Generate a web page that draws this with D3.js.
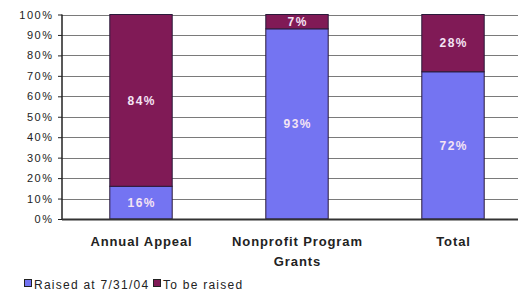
<!DOCTYPE html>
<html>
<head>
<meta charset="utf-8">
<script src="https://cdn.jsdelivr.net/npm/d3@7"></script>
<style>
  body { margin: 0; background: #fff; }
  svg { display: block; font-family: "Liberation Sans", Arial, sans-serif; }
</style>
</head>
<body>
<svg id="chart" width="518" height="294"></svg>
<script>
// chart data
var categories = ["Annual Appeal", "Nonprofit Program|Grants", "Total"];
var raised = [16, 93, 72];
var toBeRaised = [84, 7, 28];
var seriesNames = ["Raised at 7/31/04", "To be raised"];
var yTicks = [0, 10, 20, 30, 40, 50, 60, 70, 80, 90, 100];

var colors = ["#7474f2", "#801a56"];

var svg = d3.select("#chart"),
    plotLeft = 62,
    plotTop = 14.5,
    plotBottom = 219,
    plotRight = 531;

var x = d3.scaleBand()
    .domain(categories)
    .range([plotLeft + 1, plotRight])
    .paddingInner(0.6)
    .paddingOuter(0.3);

var y = d3.scaleLinear()
    .domain([0, 100])
    .range([plotBottom, plotTop]);

// gridlines
svg.append("g")
    .selectAll("line")
    .data(yTicks.filter(function (d) { return d > 0; }))
    .enter().append("line")
    .attr("x1", plotLeft)
    .attr("x2", plotRight)
    .attr("y1", function (d) { return Math.round(y(d)) + 0.5; })
    .attr("y2", function (d) { return Math.round(y(d)) + 0.5; })
    .style("stroke", "#7a7a7a")
    .style("stroke-width", 1);

// stacked data
var rows = categories.map(function (c, i) {
    return {cat: c, a: raised[i], b: toBeRaised[i]};
});
var stack = d3.stack().keys(["a", "b"]);
var layers = stack(rows);

var layer = svg.selectAll("g.layer")
    .data(layers)
    .enter().append("g")
    .attr("class", "layer");

layer.selectAll("rect")
    .data(function (d) { return d.map(function (p) { return {p: p, key: d.key}; }); })
    .enter().append("rect")
    .attr("x", function (d) { return x(d.p.data.cat); })
    .attr("width", x.bandwidth())
    .attr("y", function (d) { return y(d.p[1]); })
    .attr("height", function (d) { return y(d.p[0]) - y(d.p[1]); })
    .style("fill", function (d) { return d.key === "a" ? colors[0] : colors[1]; })
    .style("stroke", "#2a1a3a")
    .style("stroke-width", 1);

// value labels
layer.selectAll("text")
    .data(function (d) { return d.map(function (p) { return {p: p, key: d.key}; }); })
    .enter().append("text")
    .attr("x", function (d) { return x(d.p.data.cat) + x.bandwidth() / 2 + 0.75; })
    .attr("y", function (d) { return (y(d.p[0]) + y(d.p[1])) / 2; })
    .attr("dy", "0.36em")
    .attr("text-anchor", "middle")
    .style("fill", "#f4e4f4")
    .style("font-size", "12px")
    .style("font-weight", "bold")
    .style("letter-spacing", "1.5px")
    .text(function (d) { return (d.p[1] - d.p[0]) + "%"; });

// y axis
var yAxis = svg.append("g")
    .attr("transform", "translate(" + plotLeft + ",0)")
    .call(d3.axisLeft(y).tickValues(yTicks).tickSize(4).tickFormat(function (d) { return d + "%"; }));
yAxis.select(".domain").remove();
yAxis.selectAll(".tick line").style("stroke", "#222");
yAxis.selectAll("text")
    .attr("x", -8.5)
    .style("font-size", "11px")
    .style("letter-spacing", "1.5px")
    .style("fill", "#222");

svg.append("line")
    .attr("x1", plotLeft).attr("x2", plotLeft)
    .attr("y1", plotTop).attr("y2", plotBottom + 1)
    .style("stroke", "#222").style("stroke-width", 1.5);

svg.append("line")
    .attr("x1", plotLeft).attr("x2", plotRight)
    .attr("y1", plotBottom + 0.5).attr("y2", plotBottom + 0.5)
    .style("stroke", "#333").style("stroke-width", 2);

// category labels
svg.append("g")
    .selectAll("text")
    .data(categories)
    .enter().append("text")
    .attr("y", 246)
    .attr("text-anchor", "middle")
    .style("font-size", "13px")
    .style("font-weight", "bold")
    .style("letter-spacing", "0.9px")
    .style("fill", "#222")
    .each(function (d) {
        var parts = d.split("|");
        var t = d3.select(this);
        parts.forEach(function (s, i) {
            t.append("tspan")
                .attr("x", x(d) + x.bandwidth() / 2 + 0.5)
                .attr("dy", i === 0 ? 0 : 20)
                .text(s);
        });
    });

// legend
var legend = svg.append("g").attr("transform", "translate(24,279)");
var lx = [0, 129];
seriesNames.forEach(function (name, i) {
    legend.append("rect")
        .attr("x", lx[i] + 0.5).attr("y", 0.5)
        .attr("width", 7).attr("height", 7)
        .style("fill", colors[i])
        .style("stroke", "#222");
    legend.append("text")
        .attr("x", lx[i] + 10)
        .attr("y", 9.5)
        .style("font-size", "12px")
        .style("letter-spacing", "1.25px")
        .style("fill", "#222")
        .text(name);
});
</script>
</body>
</html>
